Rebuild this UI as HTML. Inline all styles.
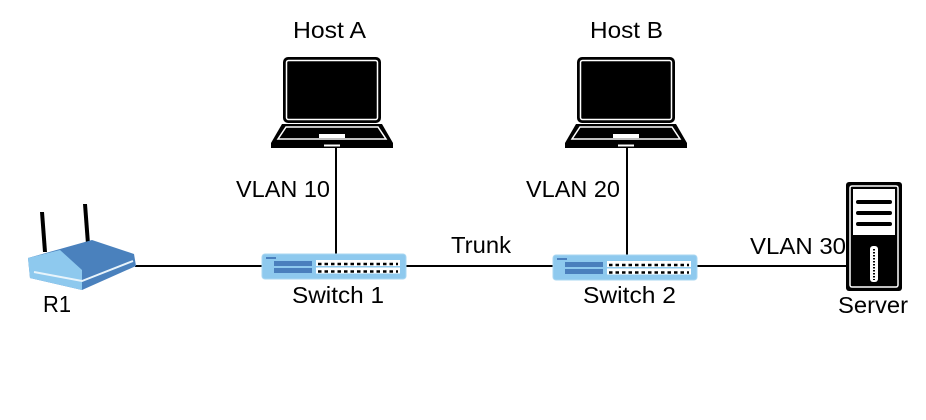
<!DOCTYPE html>
<html><head><style>
html,body{margin:0;padding:0;background:#fff;width:926px;height:420px;overflow:hidden}
svg{display:block}
text{font-family:"Liberation Sans",sans-serif;font-size:23px;fill:#000}
</style></head><body>
<svg width="926" height="420" viewBox="0 0 926 420">
<defs>
<g id="laptop">
  <rect x="0" y="0" width="98" height="66" rx="5" fill="#000"/>
  <rect x="3.5" y="3.5" width="91" height="59" rx="2" fill="none" stroke="#fff" stroke-width="1.5"/>
  <path d="M-1 67 L99 67 L110 86 L-12 86 Z" fill="#000"/>
  <path d="M3 70 L95 70 L103 82 L-5 82 Z" fill="none" stroke="#fff" stroke-width="1.5"/>
  <rect x="36" y="77" width="26" height="4" fill="#fff"/>
  <rect x="-12" y="86" width="122" height="5" fill="#000"/>
  <rect x="41" y="87.5" width="16" height="2" fill="#fff"/>
</g>
<g id="switch">
  <rect x="0" y="0" width="144" height="25" rx="3" fill="#8ec9ee" stroke="#a9d7f2" stroke-width="1"/>
  <rect x="4" y="3" width="10" height="2" fill="#4a7fbd"/>
  <rect x="12" y="7" width="38" height="5" fill="#4a7fbd"/>
  <rect x="12" y="14" width="38" height="5" fill="#4a7fbd"/>
  <rect x="54" y="6" width="84" height="6" fill="#fff"/>
  <rect x="54" y="13.5" width="84" height="6" fill="#fff"/>
  <line x1="56" y1="10" x2="136" y2="10" stroke="#000" stroke-width="2.5" stroke-dasharray="3.5 3"/>
  <line x1="56" y1="17.5" x2="136" y2="17.5" stroke="#000" stroke-width="2.5" stroke-dasharray="3.5 3"/>
</g>
</defs>

<line x1="135" y1="266" x2="852" y2="266" stroke="#000" stroke-width="2"/>
<line x1="336" y1="148" x2="336" y2="256" stroke="#000" stroke-width="2"/>
<line x1="627" y1="148" x2="627" y2="256" stroke="#000" stroke-width="2"/>

<use href="#laptop" transform="translate(283,57)"/>
<use href="#laptop" transform="translate(577,57)"/>

<use href="#switch" transform="translate(262,254)"/>
<use href="#switch" transform="translate(553,255)"/>

<path d="M40 212 L43 252 L47 252 L44 212 Z" fill="#000"/>
<path d="M83 204 L86 244 L90 244 L87 204 Z" fill="#000"/>
<path d="M28 258 L92 240 L134 254 L136 266 L82 290 L30 278 Z" fill="#4a81bd"/>
<path d="M28 258 L60 250 L82 270 L82 290 L30 278 Z" fill="#8ec9ee"/>
<path d="M34 272 L82 281 L133 261" fill="none" stroke="#e8f4fb" stroke-width="2"/>

<rect x="846" y="182" width="56" height="109" rx="3" fill="#000"/>
<rect x="850" y="186" width="48" height="101" rx="2" fill="none" stroke="#fff" stroke-width="1.5"/>
<rect x="853" y="189" width="42" height="46" fill="#fff"/>
<rect x="856" y="200" width="36" height="4" rx="2" fill="#000"/>
<rect x="856" y="211" width="36" height="4" rx="2" fill="#000"/>
<rect x="856" y="222" width="36" height="4" rx="2" fill="#000"/>
<rect x="870" y="246" width="8" height="36" rx="3" fill="#fff"/>
<line x1="874" y1="249" x2="874" y2="280" stroke="#000" stroke-width="2" stroke-dasharray="1.5 1.5"/>

<text x="293" y="38" textLength="73" lengthAdjust="spacingAndGlyphs">Host A</text>
<text x="590" y="38" textLength="73" lengthAdjust="spacingAndGlyphs">Host B</text>
<text x="236" y="197" textLength="94" lengthAdjust="spacingAndGlyphs">VLAN 10</text>
<text x="526" y="197" textLength="94" lengthAdjust="spacingAndGlyphs">VLAN 20</text>
<text x="750" y="254" textLength="96" lengthAdjust="spacingAndGlyphs">VLAN 30</text>
<text x="451" y="253" textLength="60" lengthAdjust="spacingAndGlyphs">Trunk</text>
<text x="292" y="303" textLength="92" lengthAdjust="spacingAndGlyphs">Switch 1</text>
<text x="583" y="303" textLength="93" lengthAdjust="spacingAndGlyphs">Switch 2</text>
<text x="43" y="312" textLength="28" lengthAdjust="spacingAndGlyphs">R1</text>
<text x="838" y="313" textLength="70" lengthAdjust="spacingAndGlyphs">Server</text>
</svg>
</body></html>
